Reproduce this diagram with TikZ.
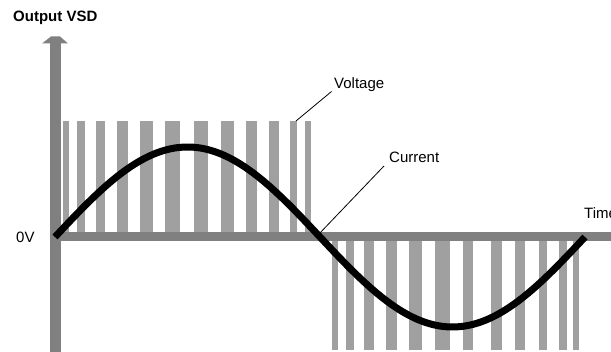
\documentclass[tikz,border=0pt]{standalone}
\usepackage{fontspec}
\setmainfont{Liberation Sans}
\definecolor{axisgray}{HTML}{808080}
\definecolor{bargray}{HTML}{A0A0A0}
\tikzset{
  bar/.style={fill=bargray, draw=none},
  axisline/.style={fill=axisgray, draw=none},
  lbl/.style={inner sep=0pt, anchor=base west, font=\fontsize{15}{18}\selectfont},
  leader/.style={draw=black, line width=0.8pt},
  wave/.style={draw=black, line width=7pt}
}
\begin{document}
\begin{tikzpicture}[x=1pt, y=-1pt]
\path[use as bounding box, fill=white] (0,0) rectangle (611,352);
% positive voltage pulses
\foreach \l/\r in {63/69, 77/85, 96/105, 117/128, 140/153, 165/180, 194/208, 221/234, 246/257, 269/279, 290/297, 305/311}
  \fill[bar] (\l,121) rectangle (\r,234);
% negative voltage pulses
\foreach \l/\r in {332/338, 346/354, 364/374, 386/397, 409/422, 435/450, 463/473, 491/502, 515/525, 539/547, 559/567, 573/579}
  \fill[bar] (\l,241) rectangle (\r,350);
% axes
\fill[axisline] (50,232.5) rectangle (611,241.5);
\fill[axisline] (50,43) rectangle (60.5,352);
\fill[axisline] (42,43.5) -- (51,36.5) -- (60,36.5) -- (68,43.5) -- cycle;
% current wave
\draw[wave] plot[domain=0:360, samples=120, smooth] ({55 + \x/360*530}, {237 - 90*sin(\x)});
% labels
\node[lbl, font=\fontsize{15}{18}\selectfont\bfseries] (title) at (13,21.5) {Output VSD};
\node[lbl] (zero) at (16,243) {0V};
\node[lbl] (time) at (584,218.5) {Time};
\node[lbl] (volt) at (334,89) {Voltage};
\node[lbl] (curr) at (389,163) {Current};
\coordinate (vtip) at (296,121);
\coordinate (vstart) at (331.5,91.5);
\coordinate (ctip) at (318,235);
\coordinate (cstart) at (384,166);
\draw[leader] (vstart) -- (vtip);
\draw[leader] (cstart) -- (ctip);
\end{tikzpicture}
\end{document}
